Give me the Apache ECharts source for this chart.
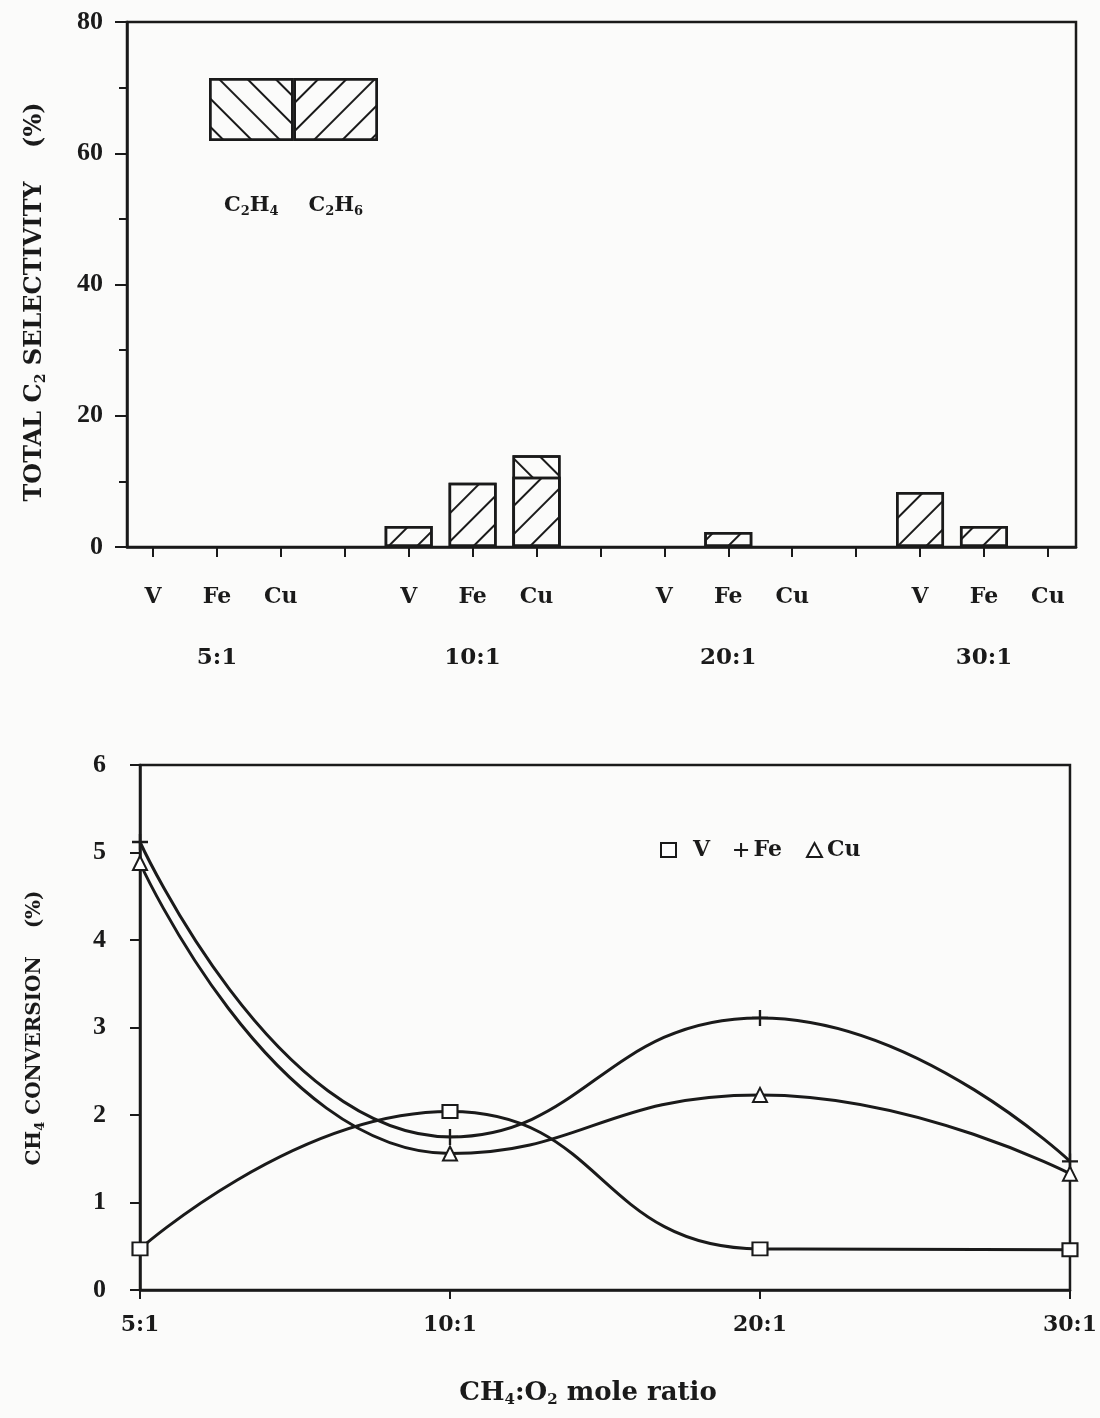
<!DOCTYPE html>
<html>
<head>
<meta charset="utf-8">
<script src="https://cdn.jsdelivr.net/npm/echarts@6/dist/echarts.min.js"></script>
<style>
  html, body { margin: 0; padding: 0; background: #fbfbfa; }
  #chart { width: 1100px; height: 1418px; }
</style>
</head>
<body>
<div id="chart"></div>
<script>
// Oxidative coupling of methane over V, Fe and Cu catalysts:
// total C2 selectivity (top) and CH4 conversion (bottom) against CH4:O2 feed ratio.
const ratios = ['5:1', '10:1', '20:1', '30:1'];
const metals = ['V', 'Fe', 'Cu'];
const species = ['C2H4', 'C2H6'];

// Selectivity (%) for each ratio, ordered [V, Fe, Cu]; null = no bar drawn
const c2h6Sel = [[null, null, null], [3.2, 9.8, 10.7], [null, 2.3, null], [8.4, 3.2, null]];
const c2h4Sel = [[null, null, null], [null, null, 3.3], [null, null, null], [null, null, null]];

// CH4 conversion (%) at each ratio
const convV = [0.47, 2.04, 0.47, 0.46];
const convFe = [5.12, 1.75, 3.11, 1.47];
const convCu = [4.88, 1.56, 2.23, 1.33];

const ink = '#1a1a1a';
const paper = '#fbfbfa';
const numFont = '"Liberation Serif", "DejaVu Serif", serif';
const textFont = '"DejaVu Serif", "Liberation Serif", serif';

// Each ratio group takes metals.length slots plus one empty slot as a spacer
const groupSize = metals.length + 1;
const slotOf = (i, j) => i * groupSize + j + 1;
const allSlots = Array.from({ length: ratios.length * groupSize - 1 }, (_, k) => k + 1);
const metalSlots = ratios.flatMap((_, i) => metals.map((_, j) => slotOf(i, j)));
const ratioSlots = ratios.map((_, i) => slotOf(i, 1));

// C2H6 sits at the bottom of each bar, C2H4 on top of it
const toPairs = table => table.flatMap((row, i) =>
  row.map((v, j) => [slotOf(i, j), v == null ? '-' : v]));
const c2h4Top = c2h4Sel.map((row, i) => row.map((v, j) =>
  v == null ? null : (c2h6Sel[i][j] || 0) + v));

const subStyle = size => ({
  fontFamily: textFont, fontWeight: 'bold', fontSize: size, color: ink,
  padding: [Math.round(size * 0.9), 0, 0, 0]
});
const withSubs = s => s.replace(/(\d)/g, '{s|$1}');

const hatch = dir => ({
  symbol: 'rect', symbolSize: 1,
  dashArrayX: [1, 0], dashArrayY: [2, 18],
  rotation: dir * Math.PI / 4,
  color: ink, backgroundColor: null
});
const hatchC2H4 = hatch(1);   // "\" lines
const hatchC2H6 = hatch(-1);  // "/" lines

const barStyle = decal => ({ color: paper, borderColor: ink, borderWidth: 2.5, decal });

const plusPath = 'path://M7,0h2.4v7h7v2.4h-7v7h-2.4v-7h-7v-2.4h7z';

const chart = echarts.init(document.getElementById('chart'), null, { renderer: 'canvas' });

const axisLineStyle = { color: ink, width: 2.5 };
const tickStyle = { color: ink, width: 2 };
const numLabel = { fontFamily: numFont, fontWeight: 'bold', color: ink };
const textLabel = { fontFamily: textFont, fontWeight: 'bold', color: ink };

chart.setOption({
  backgroundColor: paper,
  animation: false,
  textStyle: { fontFamily: textFont, fontWeight: 'bold', color: ink },
  grid: [
    { left: 127, top: 22, width: 949, height: 525, show: true, borderColor: ink, borderWidth: 2.5, backgroundColor: 'transparent' },
    { left: 209, top: 78, width: 169, height: 63 },
    { left: 140, top: 765, width: 932, height: 525, show: true, borderColor: ink, borderWidth: 2.5, backgroundColor: 'transparent' }
  ],
  xAxis: [
    {
      type: 'value', gridIndex: 0, min: 0.593, max: 15.44,
      axisLine: { show: true, onZero: false, lineStyle: axisLineStyle },
      axisTick: { show: true, length: 10, lineStyle: tickStyle, customValues: allSlots },
      splitLine: { show: false },
      axisLabel: {
        ...textLabel, fontSize: 22, margin: 39,
        customValues: metalSlots,
        formatter: v => metals[(Math.round(v) - 1) % groupSize]
      }
    },
    {
      type: 'value', gridIndex: 0, position: 'bottom', min: 0.593, max: 15.44,
      axisLine: { show: false }, axisTick: { show: false }, splitLine: { show: false },
      axisLabel: {
        ...textLabel, fontSize: 23, margin: 100,
        customValues: ratioSlots,
        formatter: v => ratios[Math.floor((Math.round(v) - 1) / groupSize)]
      }
    },
    {
      type: 'category', gridIndex: 1, data: species,
      axisLine: { show: false }, axisTick: { show: false },
      axisLabel: {
        ...textLabel, fontSize: 21, margin: 52, interval: 0,
        formatter: v => withSubs(v),
        rich: { s: subStyle(13) }
      }
    },
    {
      type: 'category', gridIndex: 2, data: ratios, boundaryGap: false,
      axisLine: { show: true, onZero: false, lineStyle: axisLineStyle },
      axisTick: { show: true, length: 9, lineStyle: tickStyle },
      axisLabel: { ...textLabel, fontSize: 22, margin: 24 }
    }
  ],
  yAxis: [
    {
      type: 'value', gridIndex: 0, min: 0, max: 80, interval: 20,
      axisLine: { show: true, lineStyle: axisLineStyle },
      axisTick: { show: true, length: 12, lineStyle: tickStyle },
      minorTick: { show: true, splitNumber: 2, length: 8, lineStyle: tickStyle },
      splitLine: { show: false },
      axisLabel: { ...numLabel, fontSize: 26, margin: 24 }
    },
    {
      type: 'value', gridIndex: 1, min: 0, max: 1, show: false
    },
    {
      type: 'value', gridIndex: 2, min: 0, max: 6, interval: 1,
      axisLine: { show: true, lineStyle: axisLineStyle },
      axisTick: { show: true, length: 10, lineStyle: tickStyle },
      splitLine: { show: false },
      axisLabel: { ...numLabel, fontSize: 26, margin: 34 }
    }
  ],
  legend: {
    left: 655, top: 834,
    itemWidth: 15, itemHeight: 14, itemGap: 24,
    textStyle: { ...textLabel, fontSize: 22 },
    data: [
      { name: 'V', icon: 'emptyRect', textStyle: { padding: [0, 0, 0, 12] } },
      { name: 'Fe', icon: plusPath },
      { name: 'Cu', icon: 'emptyTriangle' }
    ]
  },
  series: [
    // C2H4 drawn first, from the axis to the top of the stack; C2H6 overlays its lower part
    {
      name: 'C2H4', type: 'bar', xAxisIndex: 0, yAxisIndex: 0,
      barWidth: 48, barGap: '-100%', itemStyle: barStyle(hatchC2H4), data: toPairs(c2h4Top)
    },
    {
      name: 'C2H6', type: 'bar', xAxisIndex: 0, yAxisIndex: 0,
      barWidth: 48, barGap: '-100%', itemStyle: barStyle(hatchC2H6), data: toPairs(c2h6Sel)
    },
    // hatch key above the bars
    {
      type: 'bar', xAxisIndex: 2, yAxisIndex: 1, silent: true,
      barWidth: '100%', barGap: '-100%', itemStyle: barStyle(hatchC2H4),
      data: species.map(s => s === 'C2H4' ? 1 : '-')
    },
    {
      type: 'bar', xAxisIndex: 2, yAxisIndex: 1, silent: true,
      barWidth: '100%', barGap: '-100%', itemStyle: barStyle(hatchC2H6),
      data: species.map(s => s === 'C2H6' ? 1 : '-')
    },
    {
      name: 'V', type: 'line', xAxisIndex: 3, yAxisIndex: 2, smooth: 0.5, clip: false,
      symbol: 'emptyRect', symbolSize: [15, 13],
      lineStyle: { color: ink, width: 3 },
      itemStyle: { color: ink, borderColor: ink, borderWidth: 2 },
      data: convV
    },
    {
      name: 'Fe', type: 'line', xAxisIndex: 3, yAxisIndex: 2, smooth: 0.5, clip: false,
      symbol: plusPath, symbolSize: 16,
      lineStyle: { color: ink, width: 3 },
      itemStyle: { color: ink, borderWidth: 0 },
      data: convFe
    },
    {
      name: 'Cu', type: 'line', xAxisIndex: 3, yAxisIndex: 2, smooth: 0.5, clip: false,
      symbol: 'emptyTriangle', symbolSize: 14,
      lineStyle: { color: ink, width: 3 },
      itemStyle: { color: ink, borderColor: ink, borderWidth: 2 },
      data: convCu
    }
  ],
  graphic: [
    {
      type: 'text', x: 35, y: 302, rotation: Math.PI / 2,
      style: {
        text: 'TOTAL C{s|2} SELECTIVITY    (%)', rich: { s: subStyle(14) },
        fontFamily: textFont, fontWeight: 'bold', fontSize: 24, fill: ink,
        align: 'center', verticalAlign: 'middle'
      }
    },
    {
      type: 'text', x: 35, y: 1028, rotation: Math.PI / 2,
      style: {
        text: 'CH{s|4} CONVERSION    (%)', rich: { s: subStyle(13) },
        fontFamily: textFont, fontWeight: 'bold', fontSize: 20, fill: ink,
        align: 'center', verticalAlign: 'middle'
      }
    },
    {
      type: 'text', x: 588, y: 1393,
      style: {
        text: 'CH{s|4}:O{s|2} mole ratio', rich: { s: subStyle(15) },
        fontFamily: textFont, fontWeight: 'bold', fontSize: 26, fill: ink,
        align: 'center', verticalAlign: 'middle'
      }
    }
  ]
});
</script>
</body>
</html>
